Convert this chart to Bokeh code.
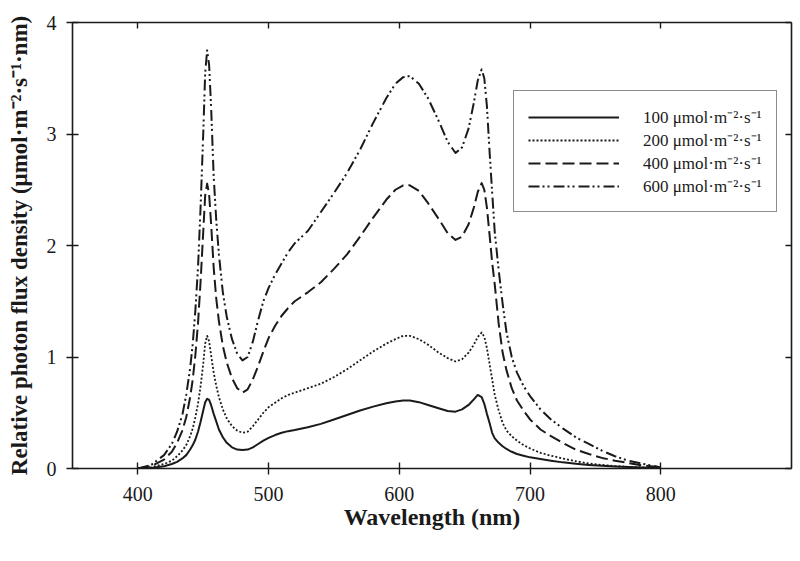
from bokeh.plotting import figure
from bokeh.models import Range1d, FixedTicker, LinearAxis, Legend, LegendItem
from bokeh.embed import file_html
from bokeh.resources import INLINE

# ---- data ----
wavelength = [400, 410, 420, 426, 430, 434, 437, 440, 442, 444,
              446, 448, 450, 451.5, 453, 454.5, 456, 458, 460, 462,
              465, 468, 472, 476, 480, 484, 488, 492, 496, 500,
              505, 510, 515, 520, 530, 540, 550, 560, 570, 580,
              590, 597, 603, 608, 615, 622, 630, 637, 643, 648,
              653, 657, 660, 663, 665, 667, 669, 671, 673, 676,
              679, 682, 686, 690, 695, 700, 708, 716, 725, 735,
              745, 755, 765, 775, 785, 800]

flux_100 = [0.0, 0.005, 0.02, 0.04, 0.06, 0.09, 0.12, 0.17, 0.21, 0.26,
            0.33, 0.42, 0.52, 0.595, 0.625, 0.615, 0.57, 0.49, 0.42, 0.35,
            0.28, 0.23, 0.19, 0.17, 0.165, 0.17, 0.19, 0.22, 0.25, 0.275,
            0.30, 0.32, 0.335, 0.345, 0.37, 0.40, 0.44, 0.48, 0.52, 0.555,
            0.585, 0.60, 0.61, 0.61, 0.595, 0.57, 0.54, 0.515, 0.51, 0.53,
            0.57, 0.62, 0.66, 0.64, 0.58, 0.49, 0.41, 0.32, 0.27, 0.23,
            0.20, 0.175, 0.15, 0.13, 0.115, 0.10, 0.085, 0.07, 0.055, 0.042,
            0.032, 0.024, 0.018, 0.013, 0.009, 0.005]

flux_200 = [0.0, 0.01, 0.04, 0.07, 0.11, 0.16, 0.21, 0.29, 0.36, 0.46,
            0.58, 0.74, 0.94, 1.12, 1.19, 1.14, 1.02, 0.86, 0.74, 0.64,
            0.53, 0.45, 0.38, 0.34, 0.32, 0.33, 0.38, 0.44, 0.50, 0.55,
            0.59, 0.63, 0.66, 0.68, 0.72, 0.76, 0.82, 0.89, 0.97, 1.05,
            1.12, 1.16, 1.19, 1.19, 1.16, 1.11, 1.04, 0.99, 0.96, 0.98,
            1.04, 1.11, 1.18, 1.22, 1.18, 1.08, 0.94, 0.80, 0.66, 0.52,
            0.41, 0.34, 0.29, 0.25, 0.21, 0.18, 0.14, 0.115, 0.09, 0.065,
            0.045, 0.032, 0.022, 0.015, 0.01, 0.005]

flux_400 = [0.0, 0.02, 0.08, 0.15, 0.23, 0.34, 0.46, 0.64, 0.80, 1.02,
            1.30, 1.68, 2.12, 2.45, 2.555, 2.46, 2.20, 1.80, 1.52, 1.32,
            1.10, 0.95, 0.81, 0.72, 0.68, 0.71, 0.80, 0.92, 1.05, 1.17,
            1.28, 1.37, 1.44, 1.50, 1.58, 1.67, 1.79, 1.92, 2.08, 2.25,
            2.41, 2.50, 2.54, 2.54, 2.49, 2.38, 2.24, 2.11, 2.05, 2.08,
            2.19, 2.34, 2.48, 2.56, 2.50, 2.34, 2.10, 1.85, 1.65, 1.30,
            1.04, 0.88, 0.72, 0.61, 0.52, 0.44, 0.35, 0.29, 0.23, 0.17,
            0.13, 0.095, 0.07, 0.05, 0.03, 0.01]

flux_600 = [0.0, 0.03, 0.12, 0.22, 0.33, 0.48, 0.66, 0.90, 1.12, 1.42,
            1.80, 2.35, 3.00, 3.55, 3.75, 3.62, 3.25, 2.62, 2.22, 1.92,
            1.58, 1.36, 1.16, 1.03, 0.97, 1.00, 1.14, 1.33, 1.50, 1.62,
            1.74, 1.84, 1.94, 2.02, 2.13, 2.30, 2.47, 2.65, 2.86, 3.10,
            3.32, 3.45, 3.51, 3.52, 3.45, 3.32, 3.12, 2.93, 2.83, 2.88,
            3.05, 3.28, 3.48, 3.58, 3.50, 3.25, 2.85, 2.48, 2.12, 1.78,
            1.48, 1.22, 1.00, 0.86, 0.74, 0.65, 0.53, 0.44, 0.36, 0.28,
            0.22, 0.16, 0.11, 0.07, 0.045, 0.01]

series_labels = ["100 μmol·m⁻²·s⁻¹", "200 μmol·m⁻²·s⁻¹", "400 μmol·m⁻²·s⁻¹", "600 μmol·m⁻²·s⁻¹"]
x_ticks = [400, 500, 600, 700, 800]
y_ticks = [0, 1, 2, 3, 4]

FONT = "Liberation Serif"
INK = "#1a1a1a"

p = figure(width=797, height=552, x_range=Range1d(350, 900), y_range=Range1d(0, 4),
           output_backend="svg", toolbar_location=None,
           min_border_left=72, min_border_top=22, min_border_right=6, min_border_bottom=84)
p.background_fill_color = "white"
p.border_fill_color = "white"
p.outline_line_color = None
p.xgrid.visible = False
p.ygrid.visible = False

def style_axis(ax, ticks, tin, tout, labels=True):
    ax.ticker = FixedTicker(ticks=ticks)
    ax.axis_line_color = INK
    ax.axis_line_width = 1.6
    ax.major_tick_line_color = INK
    ax.major_tick_line_width = 1.4
    ax.major_tick_in = tin
    ax.major_tick_out = tout
    ax.minor_tick_line_color = None
    if labels:
        ax.major_label_text_font = FONT
        ax.major_label_text_font_size = "20px"
        ax.major_label_text_color = INK
    else:
        ax.major_label_text_color = None
        ax.major_label_standoff = 0

xb = p.xaxis[0]
style_axis(xb, x_ticks, 6, 6)
xb.major_label_standoff = 12
xb.axis_label = "Wavelength (nm)"
xb.axis_label_text_font = FONT
xb.axis_label_text_font_style = "bold"
xb.axis_label_text_font_size = "24px"
xb.axis_label_text_color = INK
xb.axis_label_standoff = 0

yl = p.yaxis[0]
style_axis(yl, y_ticks, 6, 6)
yl.major_label_standoff = 10
yl.axis_label = "Relative photon flux density (μmol·m⁻²·s⁻¹·nm)"
yl.axis_label_text_font = FONT
yl.axis_label_text_font_style = "bold"
yl.axis_label_text_font_size = "23px"
yl.axis_label_text_color = INK
yl.axis_label_standoff = 12

xt = LinearAxis()
style_axis(xt, x_ticks, 6, 0, labels=False)
p.add_layout(xt, "above")

yr = LinearAxis()
style_axis(yr, y_ticks, 6, 0, labels=False)
p.add_layout(yr, "right")

series = [flux_100, flux_200, flux_400, flux_600]
dashes = ["solid", "2 2", "12 5", "11 3 2 3 2 4"]
widths = [2.0, 1.8, 2.0, 2.0]
items = []
for vals, dash, w, lab in zip(series, dashes, widths, series_labels):
    r = p.line(wavelength, vals, line_color=INK, line_width=w, line_dash=dash,
               line_join="round")
    items.append(LegendItem(label=lab, renderers=[r]))

legend = Legend(items=items, location=(441, 256))
legend.label_text_font = FONT
legend.label_text_font_size = "17px"
legend.label_text_color = INK
legend.glyph_width = 91
legend.glyph_height = 20
legend.label_height = 20
legend.label_standoff = 24
legend.spacing = -2
legend.padding = 14
legend.border_line_color = INK
legend.border_line_width = 1.6
legend.background_fill_color = "white"
legend.background_fill_alpha = 1.0
p.add_layout(legend)

open("out.html", "w").write(file_html(p, INLINE))
